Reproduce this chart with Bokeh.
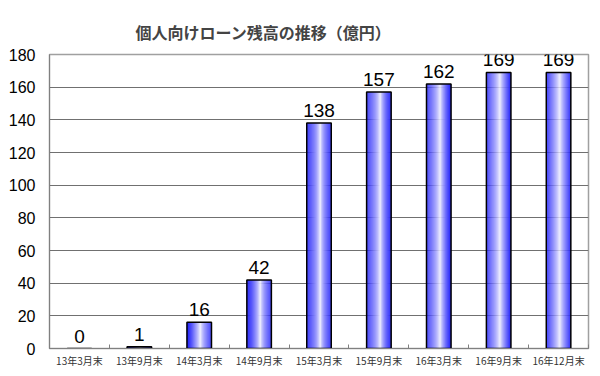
from bokeh.plotting import figure
from bokeh.models import FixedTicker, ColumnDataSource, Range1d
from bokeh.core.properties import value
from bokeh.embed import file_html
from bokeh.resources import INLINE

categories = ["13年3月末", "13年9月末", "14年3月末", "14年9月末", "15年3月末",
              "15年9月末", "16年3月末", "16年9月末", "16年12月末"]
balances = [0, 1, 16, 42, 138, 157, 162, 169, 169]
y_ticks = [0, 20, 40, 60, 80, 100, 120, 140, 160, 180]
title_text = "個人向けローン残高の推移（億円）"

n = len(categories)
centers = [i + 0.5 for i in range(n)]

p = figure(width=600, height=376, output_backend="svg", toolbar_location=None,
           x_range=Range1d(0, n), y_range=Range1d(0, 180),
           min_border_left=49, min_border_right=12, min_border_top=54,
           min_border_bottom=28)

p.title.text = title_text
p.title.text_font = "Noto Sans CJK JP"
p.title.text_font_size = "16px"
p.title.text_font_style = "bold"
p.title.align = "left"
p.title.offset = 86
p.title.standoff = 21

# gradient bars built from thin strips
bar_w = 0.41
strips = 24
sw = bar_w / strips
blue = (30, 30, 250)
for k in range(strips):
    t = (k + 0.5) / strips
    if t < 0.55:
        d = (0.55 - t) / 0.55
    else:
        d = (t - 0.55) / 0.45
    d = min(d, 1.0) ** 0.7
    r = int(250 + (blue[0] - 250) * d)
    g = int(250 + (blue[1] - 250) * d)
    b = int(255 + (blue[2] - 255) * d)
    off = -bar_w / 2 + (k + 0.5) * sw
    p.vbar(x=[c + off for c in centers], top=balances, bottom=0, width=sw * 1.1,
           fill_color=(r, g, b), line_color=None)

src = ColumnDataSource(dict(x=centers, top=balances, lab=[str(v) for v in balances]))
p.vbar(x="x", top="top", bottom=0, width=bar_w, source=src,
       fill_color=None, line_color="black", line_width=1.5)

p.text(x="x", y="top", text="lab", source=src, text_align="center",
       text_baseline="bottom", y_offset=-6,
       text_font=value("Liberation Sans"),
       text_font_size="19px", text_color="black")

# axes
p.xaxis.ticker = FixedTicker(ticks=centers, minor_ticks=list(range(n + 1)))
p.xaxis.major_label_overrides = {c: lab for c, lab in zip(centers, categories)}
p.xaxis.major_tick_line_color = None
p.xaxis.major_tick_in = 0
p.xaxis.major_tick_out = 0
p.xaxis.minor_tick_in = 4
p.xaxis.minor_tick_out = 0
p.xaxis.minor_tick_line_color = "#808080"
p.xaxis.axis_line_color = "#808080"
p.xaxis.major_label_text_font = "Noto Sans CJK JP"
p.xaxis.major_label_text_font_size = "10px"
p.xaxis.major_label_text_color = "#333333"
p.xaxis.major_label_standoff = 4

p.yaxis.ticker = FixedTicker(ticks=y_ticks)
p.yaxis.major_tick_line_color = None
p.yaxis.major_tick_in = 0
p.yaxis.major_tick_out = 0
p.yaxis.minor_tick_line_color = None
p.yaxis.axis_line_color = "#808080"
p.yaxis.major_label_text_font = "Liberation Sans"
p.yaxis.major_label_text_font_size = "16px"
p.yaxis.major_label_text_color = "black"
p.yaxis.major_label_standoff = 14

p.xgrid.grid_line_color = None
p.ygrid.ticker = FixedTicker(ticks=y_ticks)
p.ygrid.grid_line_color = "#707070"
p.outline_line_color = "#a0a0a0"
p.outline_line_width = 1.5
p.background_fill_color = "white"
p.border_fill_color = "white"

open("out.html", "w").write(file_html(p, INLINE))
